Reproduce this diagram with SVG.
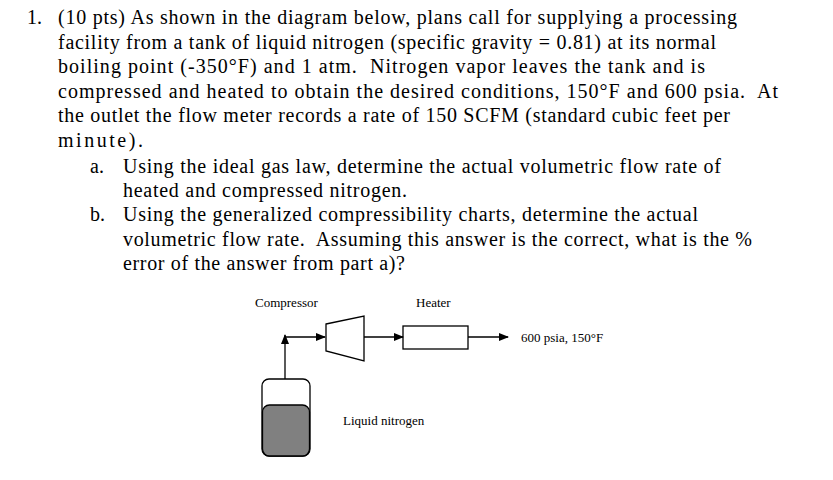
<svg xmlns="http://www.w3.org/2000/svg" width="833" height="480" viewBox="0 0 833 480">
<style>
.t{font-family:"Liberation Serif",serif;font-size:20px;fill:#000;white-space:pre}
.s{font-family:"Liberation Serif",serif;font-size:13px;fill:#000}
.ln{stroke:#000;stroke-width:1.3;fill:none}
</style>
<defs><marker id="a" markerWidth="10" markerHeight="8" refX="9" refY="4" orient="auto" markerUnits="userSpaceOnUse"><path d="M0,0L10,4L0,8Z" fill="#000"/></marker></defs>
<rect width="833" height="480" fill="#fff"/>
<text class="t" x="27" y="24">1.</text>
<text class="t" x="58" y="24" textLength="679" lengthAdjust="spacing">(10 pts) As shown in the diagram below, plans call for supplying a processing</text>
<text class="t" x="58" y="49" textLength="658" lengthAdjust="spacing">facility from a tank of liquid nitrogen (specific gravity = 0.81) at its normal</text>
<text class="t" x="58" y="73" textLength="647" lengthAdjust="spacing" xml:space="preserve">boiling point (-350°F) and 1 atm.  Nitrogen vapor leaves the tank and is</text>
<text class="t" x="58" y="98" textLength="720" lengthAdjust="spacing" xml:space="preserve">compressed and heated to obtain the desired conditions, 150°F and 600 psia.  At</text>
<text class="t" x="58" y="122" textLength="672" lengthAdjust="spacing">the outlet the flow meter records a rate of 150 SCFM (standard cubic feet per</text>
<text class="t" x="58" y="147" textLength="85" lengthAdjust="spacing">minute).</text>
<text class="t" x="90" y="173">a.</text>
<text class="t" x="123" y="173" textLength="598" lengthAdjust="spacing">Using the ideal gas law, determine the actual volumetric flow rate of</text>
<text class="t" x="123" y="197" textLength="284" lengthAdjust="spacing">heated and compressed nitrogen.</text>
<text class="t" x="90" y="221">b.</text>
<text class="t" x="123" y="221" textLength="575" lengthAdjust="spacing">Using the generalized compressibility charts, determine the actual</text>
<text class="t" x="123" y="246" textLength="629" lengthAdjust="spacing" xml:space="preserve">volumetric flow rate.  Assuming this answer is the correct, what is the %</text>
<text class="t" x="123" y="270" textLength="282" lengthAdjust="spacing">error of the answer from part a)?</text>
<g id="tank"><rect x="262" y="379" width="48" height="77" rx="7" class="ln"/><rect x="262.5" y="405" width="47" height="51" rx="7" fill="#808080" stroke="#000" stroke-width="1.3"/></g>
<g id="compressor"><path d="M326,324L364,316L364,361L326,351Z" class="ln"/><text class="s" x="255" y="307">Compressor</text></g>
<g id="heater"><rect x="403" y="326" width="65" height="23" class="ln"/><text class="s" x="416" y="307">Heater</text></g>
<text class="s" x="521" y="342">600 psia, 150°F</text>
<text class="s" x="343" y="425">Liquid nitrogen</text>
<g id="connectors">
<path d="M285,379L285,335" class="ln" marker-end="url(#a)"/>
<path d="M285,337L325,337" class="ln" marker-end="url(#a)"/>
<path d="M364,337L403,337" class="ln" marker-end="url(#a)"/>
<path d="M468,337L508,337" class="ln" marker-end="url(#a)"/>
</g>
</svg>
